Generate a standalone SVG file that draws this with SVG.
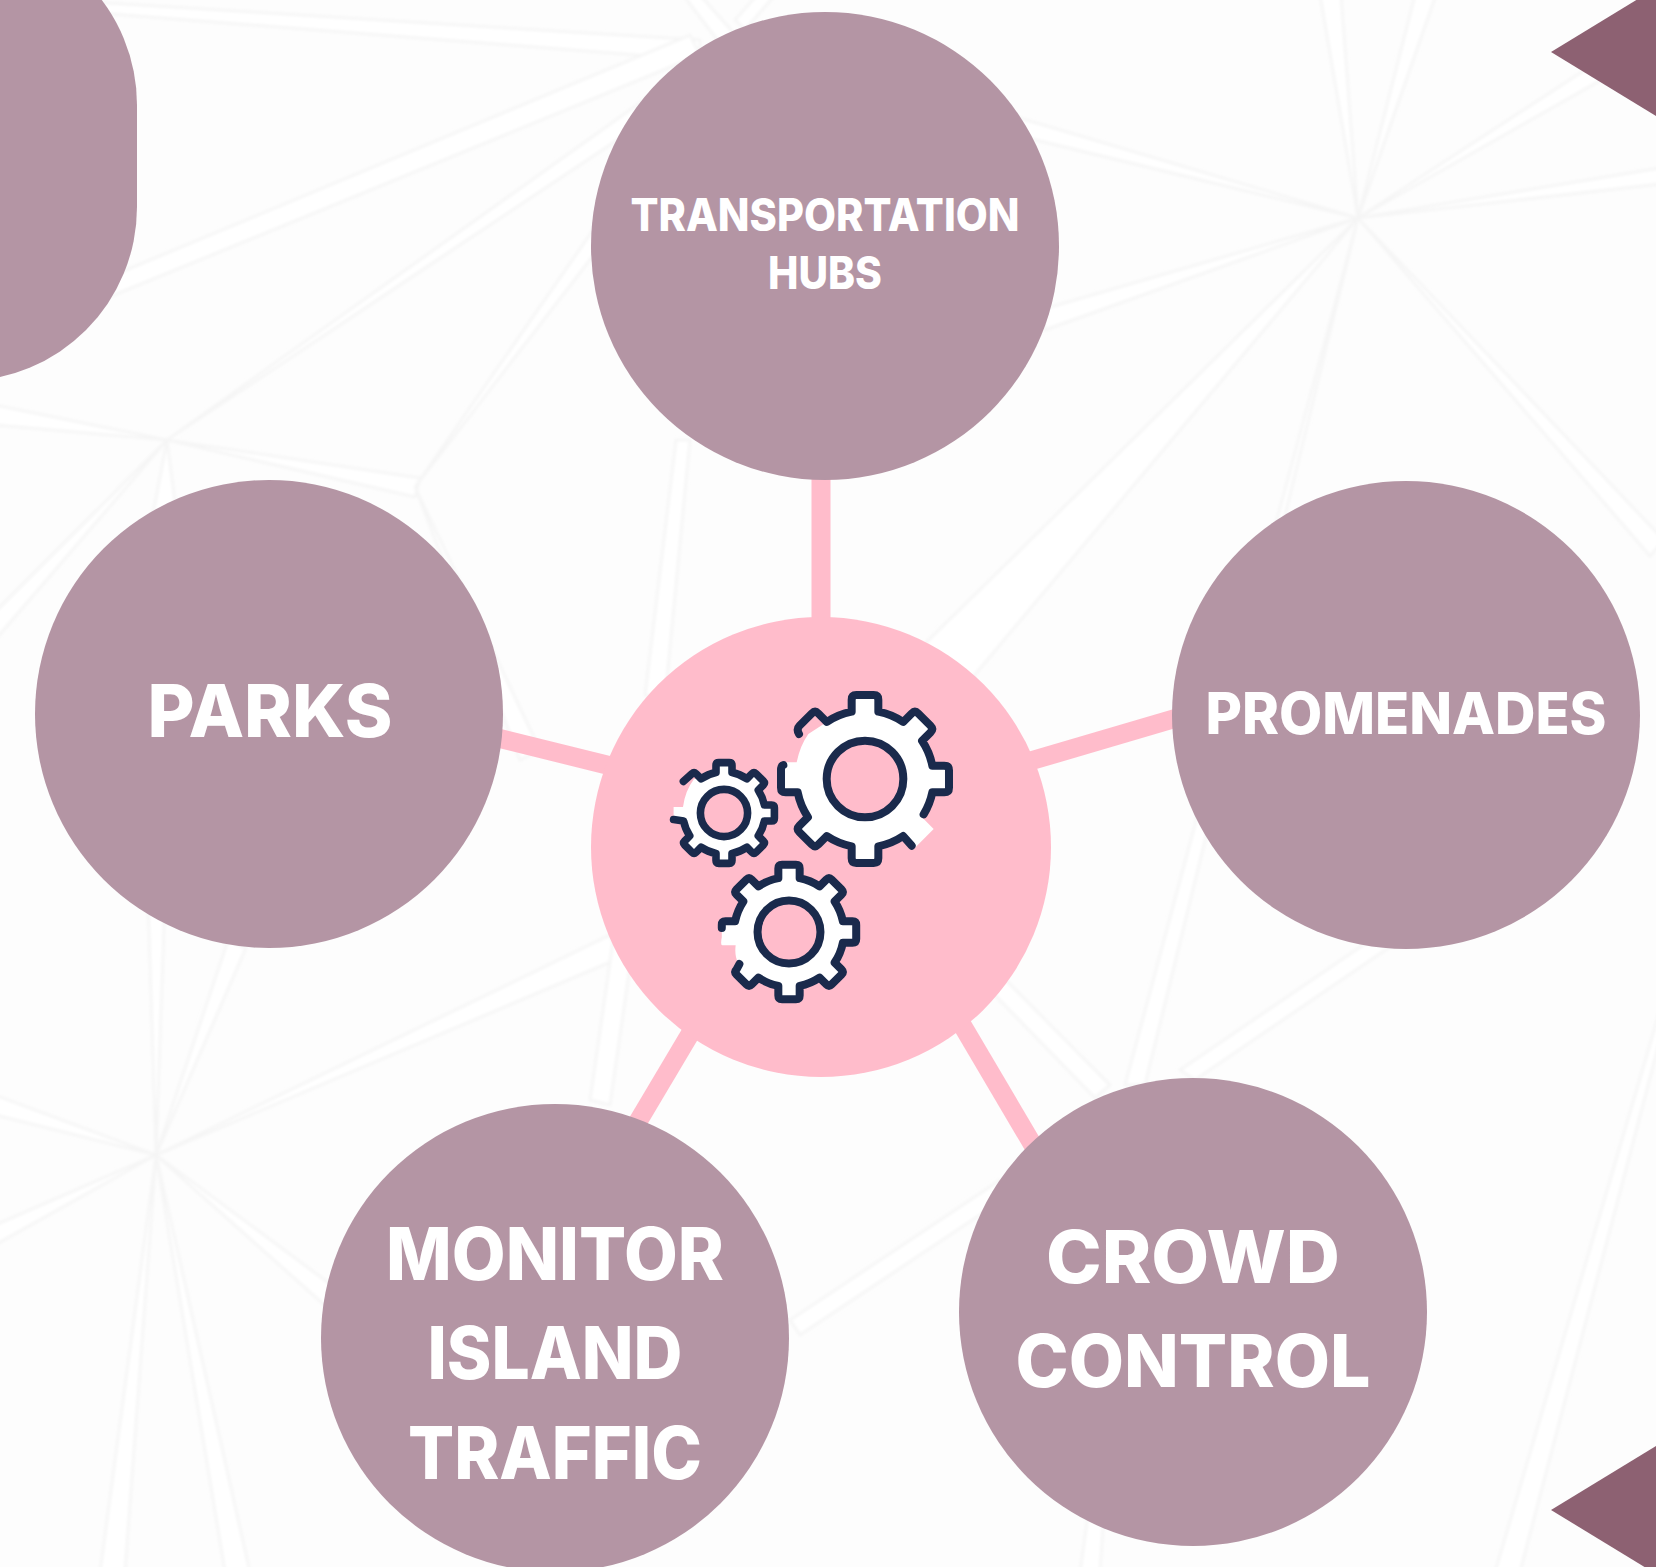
<svg xmlns="http://www.w3.org/2000/svg" width="1656" height="1567" viewBox="0 0 1656 1567">
<style>
.ridges polygon{fill:#ffffff;stroke:#f5f5f5;stroke-width:2.5}
.conn{stroke:#ffbccb;stroke-width:19;fill:none}
.node{fill:#b495a4}
.tri{fill:#8d6172}
.lbl{font-family:"Inter","Liberation Sans",sans-serif;font-weight:800;fill:#ffffff;text-anchor:middle}
.gf{fill:#ffffff;fill-rule:evenodd;stroke:none}
.gs{fill:none;stroke:#1a2a4c;stroke-linecap:round;stroke-linejoin:round}
</style>
<defs>
<filter id="soft" filterUnits="userSpaceOnUse" x="-20" y="-20" width="1700" height="1610"><feGaussianBlur stdDeviation="1.5"/></filter>
</defs>
<rect id="background" width="1656" height="1567" fill="#fdfdfd"/>
<g id="backdrop" class="ridges" filter="url(#soft)">
<polygon points="1358,218 1320,-5 1341,-5"/>
<polygon points="1358,218 1415,-5 1436,-5"/>
<polygon points="1358,218 1600,60 1610,75"/>
<polygon points="1358,218 1660,168 1660,184"/>
<polygon points="1358,218 1664,540 1650,556"/>
<polygon points="1358,218 1125,1085 1145,1085"/>
<polygon points="1358,218 900,668 900,764"/>
<polygon points="1358,218 1040,310 1045,330"/>
<polygon points="1358,218 1020,118 1015,135"/>
<polygon points="156,1155 148,900 165,900"/>
<polygon points="156,1155 228,940 246,948"/>
<polygon points="156,1155 610,935 620,958"/>
<polygon points="156,1155 -5,1095 -5,1115"/>
<polygon points="156,1155 -5,1225 -5,1245"/>
<polygon points="156,1155 100,1572 125,1572"/>
<polygon points="156,1155 225,1572 250,1572"/>
<polygon points="156,1155 330,1310 345,1295"/>
<polygon points="167,440 700,60 700,85"/>
<polygon points="167,440 -5,612 -5,640"/>
<polygon points="167,440 148,540 180,540"/>
<polygon points="167,440 -5,405 -5,425"/>
<polygon points="167,440 420,478 415,497"/>
<polygon points="415,487 520,760 540,750"/>
<polygon points="415,487 600,220 613,230"/>
<polygon points="60,0 700,40 700,60 60,10"/>
<polygon points="90,285 690,35 700,55 90,305"/>
<polygon points="683,-5 725,50 740,40 700,-5"/>
<polygon points="735,20 757,-5 775,-5 745,30"/>
<polygon points="985,985 998,972 1110,1085 1095,1098"/>
<polygon points="1385,930 1400,940 1195,1080 1180,1070"/>
<polygon points="1660,1010 1660,1040 1520,1572 1495,1572"/>
<polygon points="1090,1500 1105,1500 1100,1572 1080,1572"/>
<polygon points="616,920 636,925 610,1105 590,1100"/>
<polygon points="676,440 690,440 665,700 645,695"/>
<polygon points="1000,1180 1010,1195 800,1335 790,1320"/>
</g>
<g id="decor">
<rect class="node" x="-400" y="-69" width="537" height="450" rx="174"/>
<polygon class="tri" points="1551,52 1656,-12 1656,116"/>
<polygon class="tri" points="1551,1510 1656,1446 1656,1574"/>
</g>
<g id="connectors">
<line class="conn" x1="821" y1="470" x2="821" y2="630"/>
<line class="conn" x1="490" y1="736" x2="615" y2="767"/>
<line class="conn" x1="1180" y1="717" x2="1020" y2="764"/>
<line class="conn" x1="696" y1="1024" x2="630" y2="1135"/>
<line class="conn" x1="955" y1="1013" x2="1040" y2="1157"/>
</g>
<g id="node-hub">
<circle cx="821" cy="847" r="230" fill="#ffbccb"/>
<g id="gear-large" transform="translate(865 779) scale(.3333)">
<path class="gf" d="M-40 -202L-40 -252L40 -252L40 -202A206 206 0 0 1 114.6 -171.1L150 -206L206 -150L171.1 -114.6A206 206 0 0 1 202 -40L252 -40L252 40L202 40A206 206 0 0 1 171.1 114.6L206 150L150 206L114.6 171.1A206 206 0 0 1 40 202L40 252L-40 252L-40 202A206 206 0 0 1 -114.6 171.1L-150 206L-206 150L-171.1 114.6A206 206 0 0 1 -202 40L-252 40L-252 -50L-205 -50Q-195 -100 -170 -135L-114.6 -171.1A206 206 0 0 1 -40 -202ZM115 0A115 115 0 1 0 -115 0A115 115 0 1 0 115 0Z"/>
<path class="gs" stroke-width="24" d="M-198 -135Q-206.5 -149.9 -196.6 -159.8L-159.8 -196.6Q-149.9 -206.5 -140 -196.6L-114.6 -171.1A206 206 0 0 1 -40 -202L-40 -238Q-40 -252 -26 -252L26 -252Q40 -252 40 -238L40 -202A206 206 0 0 1 114.6 -171.1L140 -196.6Q149.9 -206.5 159.8 -196.6L196.6 -159.8Q206.5 -149.9 196.6 -140L171.1 -114.6A206 206 0 0 1 202 -40L238 -40Q252 -40 252 -26L252 26Q252 40 238 40L202 40A206 206 0 0 1 176 106M140 200L114.6 171.1A206 206 0 0 1 40 202L40 238Q40 252 26 252L-26 252Q-40 252 -40 238L-40 202A206 206 0 0 1 -114.6 171.1L-140 196.6Q-149.9 206.5 -159.8 196.6L-196.6 159.8Q-206.5 149.9 -196.6 140L-171.1 114.6A206 206 0 0 1 -202 40L-238 40Q-252 40 -252 26L-252 -26Q-252 -40 -245 -42"/>
<circle class="gs" r="115" stroke-width="24"/>
</g>
<g id="gear-medium" transform="translate(789 932) scale(.2667)">
<path class="gf" d="M-40 -202L-40 -252L40 -252L40 -202A206 206 0 0 1 114.6 -171.1L150 -206L206 -150L171.1 -114.6A206 206 0 0 1 202 -40L252 -40L252 40L202 40A206 206 0 0 1 171.1 114.6L206 150L150 206L114.6 171.1A206 206 0 0 1 40 202L40 252L-40 252L-40 202A206 206 0 0 1 -114.6 171.1L-150 206L-206 150L-190 118Q-205 90 -200 50L-250 50Q-258 50 -252 20L-252 -26L-238 -40L-202 -40A206 206 0 0 1 -171.1 -114.6L-206 -150L-150 -206L-114.6 -171.1A206 206 0 0 1 -40 -202ZM115 0A115 115 0 1 0 -115 0A115 115 0 1 0 115 0Z"/>
<path class="gs" stroke-width="30" d="M-252 -15L-252 -26Q-252 -40 -238 -40L-202 -40A206 206 0 0 1 -171.1 -114.6L-196.6 -140Q-206.5 -149.9 -196.6 -159.8L-159.8 -196.6Q-149.9 -206.5 -140 -196.6L-114.6 -171.1A206 206 0 0 1 -40 -202L-40 -238Q-40 -252 -26 -252L26 -252Q40 -252 40 -238L40 -202A206 206 0 0 1 114.6 -171.1L140 -196.6Q149.9 -206.5 159.8 -196.6L196.6 -159.8Q206.5 -149.9 196.6 -140L171.1 -114.6A206 206 0 0 1 202 -40L238 -40Q252 -40 252 -26L252 26Q252 40 238 40L202 40A206 206 0 0 1 171.1 114.6L196.6 140Q206.5 149.9 196.6 159.8L159.8 196.6Q149.9 206.5 140 196.6L114.6 171.1A206 206 0 0 1 40 202L40 238Q40 252 26 252L-26 252Q-40 252 -40 238L-40 202A206 206 0 0 1 -114.6 171.1L-140 196.6Q-149.9 206.5 -159.8 196.6L-196.6 159.8Q-206.5 149.9 -196.6 140L-186 120"/>
<circle class="gs" r="118" stroke-width="30"/>
</g>
<g id="gear-small" transform="translate(724 813) scale(.2)">
<path class="gf" d="M-40 -202L-40 -252L40 -252L40 -202A206 206 0 0 1 114.6 -171.1L150 -206L206 -150L171.1 -114.6A206 206 0 0 1 202 -40L252 -40L252 40L202 40A206 206 0 0 1 171.1 114.6L206 150L150 206L114.6 171.1A206 206 0 0 1 40 202L40 252L-40 252L-40 202A206 206 0 0 1 -114.6 171.1L-150 206L-206 150L-171.1 114.6A206 206 0 0 1 -202 40L-252 30L-252 -30L-205 -30Q-195 -110 -150 -170L-114.6 -171.1A206 206 0 0 1 -40 -202ZM115 0A115 115 0 1 0 -115 0A115 115 0 1 0 115 0Z"/>
<path class="gs" stroke-width="38" d="M-203 -158L-159.8 -196.6Q-149.9 -206.5 -140 -196.6L-114.6 -171.1A206 206 0 0 1 -40 -202L-40 -238Q-40 -252 -26 -252L26 -252Q40 -252 40 -238L40 -202A206 206 0 0 1 114.6 -171.1L140 -196.6Q149.9 -206.5 159.8 -196.6L196.6 -159.8Q206.5 -149.9 196.6 -140L171.1 -114.6A206 206 0 0 1 202 -40L238 -40Q252 -40 252 -26L252 26Q252 40 238 40L202 40A206 206 0 0 1 171.1 114.6L196.6 140Q206.5 149.9 196.6 159.8L159.8 196.6Q149.9 206.5 140 196.6L114.6 171.1A206 206 0 0 1 40 202L40 238Q40 252 26 252L-26 252Q-40 252 -40 238L-40 202A206 206 0 0 1 -114.6 171.1L-140 196.6Q-149.9 206.5 -159.8 196.6L-196.6 159.8Q-206.5 149.9 -196.6 140L-171.1 114.6A206 206 0 0 1 -202 40L-252 33"/>
<circle class="gs" r="118" stroke-width="38"/>
</g>
</g>
<g id="node-transportation">
<circle class="node" cx="825" cy="246" r="234"/>
<text class="lbl" x="825" y="231" font-size="45" textLength="389" lengthAdjust="spacingAndGlyphs">TRANSPORTATION</text>
<text class="lbl" x="825" y="289" font-size="45" textLength="114" lengthAdjust="spacingAndGlyphs">HUBS</text>
</g>
<g id="node-parks">
<circle class="node" cx="269" cy="714" r="234"/>
<text class="lbl" x="270" y="737" font-size="73" textLength="245" lengthAdjust="spacingAndGlyphs">PARKS</text>
</g>
<g id="node-promenades">
<circle class="node" cx="1406" cy="715" r="234"/>
<text class="lbl" x="1406" y="734" font-size="58" textLength="401" lengthAdjust="spacingAndGlyphs">PROMENADES</text>
</g>
<g id="node-monitor">
<circle class="node" cx="555" cy="1338" r="234"/>
<text class="lbl" x="555" y="1280" font-size="73" textLength="338" lengthAdjust="spacingAndGlyphs">MONITOR</text>
<text class="lbl" x="555" y="1379" font-size="73" textLength="255" lengthAdjust="spacingAndGlyphs">ISLAND</text>
<text class="lbl" x="555" y="1479" font-size="73" textLength="294" lengthAdjust="spacingAndGlyphs">TRAFFIC</text>
</g>
<g id="node-crowd">
<circle class="node" cx="1193" cy="1312" r="234"/>
<text class="lbl" x="1193" y="1283" font-size="73" textLength="294" lengthAdjust="spacingAndGlyphs">CROWD</text>
<text class="lbl" x="1193" y="1387" font-size="73" textLength="355" lengthAdjust="spacingAndGlyphs">CONTROL</text>
</g>
</svg>
